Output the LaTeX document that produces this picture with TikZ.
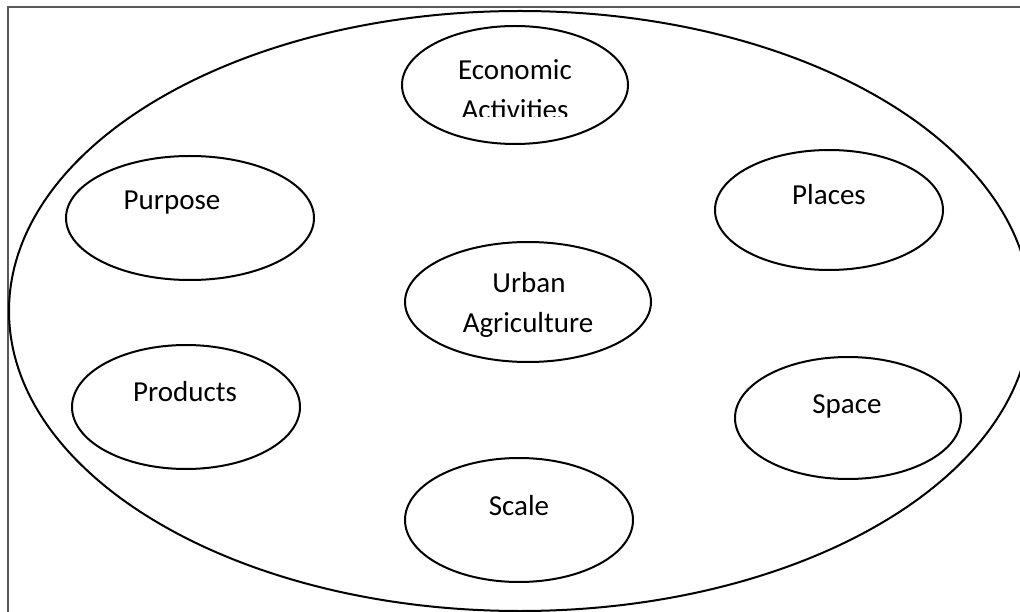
\documentclass[tikz,border=0pt]{standalone}
\usepackage{fontspec}
\setmainfont{Carlito}
\usetikzlibrary{shapes.geometric}
\begin{document}
\begin{tikzpicture}[x=1pt,y=-1pt,
  bubble/.style={draw=black, line width=2pt, ellipse, inner sep=0pt},
  lbl/.style={anchor=base, inner sep=0pt, font=\fontsize{29}{40}\selectfont}]
\definecolor{framegray}{RGB}{89,89,89}
\useasboundingbox (0,0) rectangle (1020,612);
% page frame (left and top edges)
\coordinate (fbl) at (8,612);
\coordinate (ftl) at (8,7);
\coordinate (ftr) at (1020,7);
\draw[line width=1.8pt, draw=framegray] (fbl) -- (ftl) -- (ftr);
% outer ellipse
\node[bubble, minimum width=1022pt, minimum height=600pt] (outer) at (520,311) {};
% inner ellipses
\node[bubble, minimum width=226pt, minimum height=118pt] (econ) at (515,85) {};
\node[bubble, minimum width=248pt, minimum height=124pt] (purp) at (190,218) {};
\node[bubble, minimum width=228pt, minimum height=120pt] (plac) at (829,210) {};
\node[bubble, minimum width=246pt, minimum height=120pt] (urb) at (528,302) {};
\node[bubble, minimum width=228pt, minimum height=124pt] (prod) at (186,407) {};
\node[bubble, minimum width=226pt, minimum height=122pt] (spac) at (848,418) {};
\node[bubble, minimum width=228pt, minimum height=124pt] (scal) at (519,520) {};
% labels
\begin{scope}
  \clip (400,20) rectangle (630,117);
  \node[lbl] (econ1) at (515,80) {Economic};
  \node[lbl] (econ2) at (515,120) {Activities};
\end{scope}
\node[lbl] (purpt) at (172,210) {Purpose};
\node[lbl] (plact) at (829,205) {Places};
\node[lbl] (urbt1) at (529,293) {Urban};
\node[lbl] (urbt2) at (528,333) {Agriculture};
\node[lbl] (prodt) at (185,401) {Products};
\node[lbl] (spact) at (847,413) {Space};
\node[lbl] (scalt) at (519,515) {Scale};
\end{tikzpicture}
\end{document}
